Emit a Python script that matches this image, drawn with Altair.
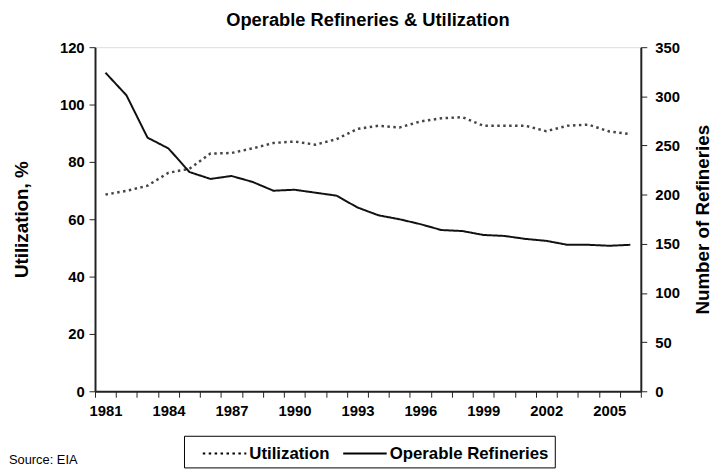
import altair as alt
import pandas as pd

years = list(range(1981, 2007))
utilization = [68.6, 69.9, 71.7, 76.2, 77.6, 82.9, 83.1, 84.7, 86.6, 87.1, 86.0, 87.9, 91.5,
               92.6, 92.0, 94.1, 95.2, 95.6, 92.6, 92.6, 92.6, 90.7, 92.6, 93.0, 90.6, 89.7]
refineries = [324, 301, 258, 247, 223, 216, 219, 213, 204, 205, 202, 199, 187,
              179, 175, 170, 164, 163, 159, 158, 155, 153, 149, 149, 148, 149]
series_names = ["Utilization", "Operable Refineries"]
left_ticks = [0, 20, 40, 60, 80, 100, 120]
right_ticks = [0, 50, 100, 150, 200, 250, 300, 350]
source_text = ["Source: EIA"]

FONT = "Liberation Sans"

df_u = pd.DataFrame({"year": years, "value": utilization, "series": series_names[0]})
df_r = pd.DataFrame({"year": years, "value": refineries, "series": series_names[1]})

x_enc = alt.X(
    "year:Q",
    scale=alt.Scale(domain=[1980.5, 2006.5], nice=False, zero=False),
    axis=alt.Axis(
        values=[1980.5 + i for i in range(27)],
        labelExpr="(datum.value - 1980.5) % 3 == 0 ? format(datum.value + 0.5, 'd') : ''",
        labelOffset=10.6,
        labelOverlap=False,
        labelFlush=False,
        labelBound=False,
        title=None,
        grid=False,
        tickSize=6,
        labelPadding=6,
        domainColor="#222",
        domainWidth=2,
        tickColor="#222",
        labelFont=FONT,
        labelFontSize=15,
        labelFontWeight="bold",
        labelColor="black",
    ),
)

dash_scale = alt.Scale(domain=series_names, range=[[2.5, 3.5], [1, 0]])

legend = alt.Legend(
    title=None,
    orient="none",
    legendX=90,
    legendY=393,
    direction="horizontal",
    symbolType="M-2,0H2",
    symbolSize=484,
    symbolOffset=23,
    symbolStrokeColor="black",
    symbolStrokeWidth=2,
    labelFont=FONT,
    labelFontSize=17,
    labelFontWeight="bold",
    labelColor="black",
    labelOffset=13,
    labelLimit=400,
    strokeColor="black",
    padding=6,
    columnPadding=-6,
)

line_u = alt.Chart(df_u).mark_line(strokeWidth=2.5, color="#444").encode(
    x=x_enc,
    y=alt.Y(
        "value:Q",
        scale=alt.Scale(domain=[0, 120], nice=False),
        axis=alt.Axis(
            orient="left",
            values=left_ticks,
            title="Utilization, %",
            titleX=-74,
            titleY=174,
            titleAngle=270,
            titleBaseline="middle",
            titleAlign="center",
            titleFont=FONT,
            titleFontSize=19,
            titleFontWeight="bold",
            titleColor="black",
            grid=False,
            tickSize=6,
            labelPadding=5,
            domainColor="#222",
            domainWidth=2,
            tickColor="#222",
            labelFont=FONT,
            labelFontSize=15,
            labelFontWeight="bold",
            labelColor="black",
        ),
    ),
    strokeDash=alt.StrokeDash("series:N", scale=dash_scale, legend=legend),
)

line_r = alt.Chart(df_r).mark_line(strokeWidth=2, color="#111").encode(
    x=x_enc,
    y=alt.Y(
        "value:Q",
        scale=alt.Scale(domain=[0, 350], nice=False),
        axis=alt.Axis(
            orient="right",
            values=right_ticks,
            title="Number of Refineries",
            titleX=62,
            titleY=174,
            titleAngle=270,
            titleBaseline="middle",
            titleAlign="center",
            titleFont=FONT,
            titleFontSize=19,
            titleFontWeight="bold",
            titleColor="black",
            grid=False,
            tickSize=6,
            labelPadding=8,
            domainColor="#222",
            domainWidth=2,
            tickColor="#222",
            labelFont=FONT,
            labelFontSize=15,
            labelFontWeight="bold",
            labelColor="black",
        ),
    ),
    strokeDash=alt.StrokeDash("series:N", scale=dash_scale, legend=legend),
)

src = alt.Chart(pd.DataFrame({"t": source_text})).mark_text(
    align="left", baseline="alphabetic", font=FONT, fontSize=13, color="black",
    x=-87, y=422,
).encode(text="t:N")

chart = (
    alt.layer(line_u, line_r, src)
    .resolve_scale(y="independent")
    .properties(
        width=552,
        height=348,
        title=alt.TitleParams(
            "Operable Refineries & Utilization",
            font=FONT,
            fontSize=18.5,
            fontWeight="bold",
            color="black",
            anchor="middle",
            offset=11,
        ),
        autosize=alt.AutoSizeParams(type="none"),
        padding={"left": 88, "top": 37, "right": 73, "bottom": 79},
    )
    .configure_view(stroke="#222", strokeWidth=1)
    .configure(background="white")
)

chart.save("out.html", embed_options={"renderer": "svg", "actions": False})
